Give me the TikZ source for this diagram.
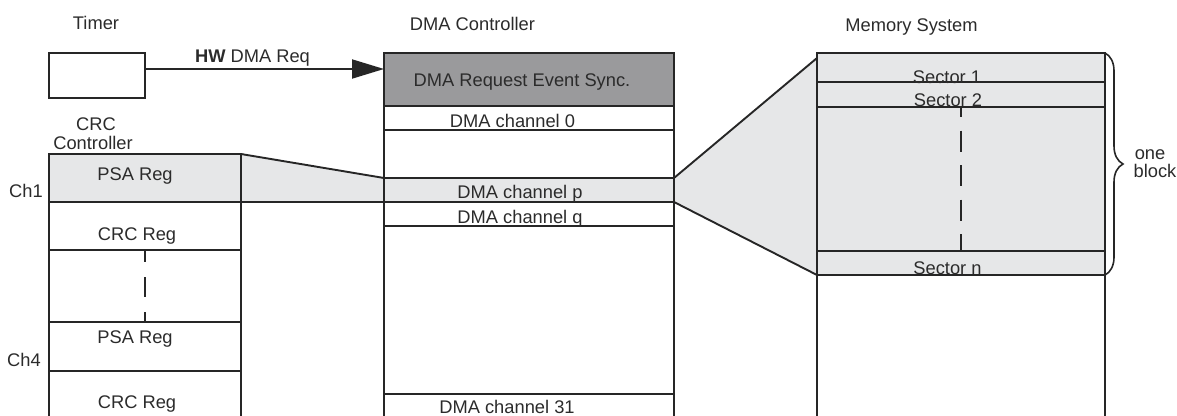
\documentclass[tikz,border=0pt]{standalone}
\usepackage{fontspec}
\setmainfont{Liberation Sans}
\usetikzlibrary{arrows.meta,decorations.pathreplacing}
\definecolor{ln}{HTML}{262626}
\definecolor{txtc}{HTML}{2B2B2B}
\definecolor{lgray}{HTML}{E6E7E8}
\definecolor{dgray}{HTML}{9A9A9C}
\begin{document}
\begin{tikzpicture}[x=1pt,y=-1pt,
  box/.style={draw=ln,line width=1.9pt,inner sep=0pt,outer sep=0pt,rectangle},
  lbl/.style={font=\fontsize{18.3}{20}\selectfont,text=txtc,inner sep=0pt,anchor=base},
  edge/.style={draw=ln,line width=1.9pt},
  dlineA/.style={draw=ln,line width=1.9pt,dash pattern=on 20pt off 15pt,dash phase=8pt},
  dlineB/.style={draw=ln,line width=1.9pt,dash pattern=on 21pt off 13.5pt,dash phase=11pt},
  bracestyle/.style={draw=ln,line width=1.6pt,decorate,decoration={brace,amplitude=18pt,aspect=0.5}}]
\useasboundingbox (0,0) rectangle (1177,415);
\clip (0,0) rectangle (1177,415);

% memory fill block (drawn first, lines on top)
\node[box,draw=none,fill=lgray,minimum width=288,minimum height=222] (memblk) at (961,164) {};

% ---- Timer ----
\node[box,minimum width=96,minimum height=45] (timer) at (97,75.5) {};

% ---- CRC controller column ----
\node[box,fill=lgray,minimum width=192,minimum height=48] (psa1) at (145,178) {};
\node[box,minimum width=192,minimum height=48] (crc1) at (145,226) {};
\node[box,minimum width=192,minimum height=49] (psa4) at (145,346.5) {};
\node[box,minimum width=192,minimum height=69] (crc4) at (145,405.5) {};

% ---- DMA controller column ----
\node[box,fill=dgray,minimum width=290,minimum height=53] (sync) at (529,79.5) {};
\node[box,minimum width=290,minimum height=24] (ch0) at (529,118) {};
\node[box,fill=lgray,minimum width=290,minimum height=24] (chp) at (529,190) {};
\node[box,minimum width=290,minimum height=24] (chq) at (529,214) {};
\node[box,minimum width=290,minimum height=46] (ch31) at (529,417) {};

% ---- Memory column ----
\node[box,minimum width=288,minimum height=29] (s1) at (961,67.5) {};
\node[box,minimum width=288,minimum height=25] (s2) at (961,94.5) {};
\node[box,minimum width=288,minimum height=24] (sn) at (961,263) {};
\coordinate (mtop) at ([yshift=-5pt]s1.north west);

% ---- funnels ----
\fill[lgray] (psa1.north east) -- (chp.north west) -- (chp.south west) -- (psa1.south east) -- cycle;
\fill[lgray] (chp.north east) -- (mtop) -- (sn.south west) -- (chp.south east) -- cycle;
\draw[edge] (psa1.north east) -- (chp.north west);
\draw[edge] (psa1.south east) -- (chp.south west);
\draw[edge] (chp.north east) -- (mtop);
\draw[edge] (chp.south east) -- (sn.south west);

% ---- column outlines ----
\node[box,minimum width=192,minimum height=286] (crccol) at (145,297) {};
\node[box,minimum width=290,minimum height=387] (dmacol) at (529,246.5) {};
\node[box,minimum width=288,minimum height=387] (memcol) at (961,246.5) {};
\draw[edge] (s1.south west) -- (s1.south east);
\draw[edge] (s2.south west) -- (s2.south east);
\draw[edge] (sn.north west) -- (sn.north east);
\draw[edge] (sn.south west) -- (sn.south east);
\draw[edge] (psa1.south west) -- (psa1.south east);
\draw[edge] (chp.north west) -- (chp.north east);
\draw[edge] (chp.south west) -- (chp.south east);

% ---- dashed continuation lines ----
\draw[dlineA] (crc1.south) -- (psa4.north);
\draw[dlineB] (s2.south) -- (sn.north);

% ---- arrow ----
\coordinate (ay) at (0,69);
\draw[edge,-{Triangle[length=32pt,width=19pt]}] (timer.east |- ay) -- (sync.west |- ay);

% ---- brace ----
\draw[bracestyle] (memblk.north east) -- (memblk.south east);

% ---- labels ----
\node[lbl] (tTimer) at (96,29) {Timer};
\node[lbl] (tHW) at (252.5,62) {\textbf{HW} DMA Req};
\node[lbl] (tDMAC) at (472.5,30) {DMA Controller};
\node[lbl] (tMem) at (911.5,31) {Memory System};
\node[lbl] (tCRC) at (96,130) {CRC};
\node[lbl] (tCtrl) at (93,149) {Controller};
\node[lbl] (tPSA1) at (135,180) {PSA Reg};
\node[lbl] (tCh1) at (26,197) {Ch1};
\node[lbl] (tCRC1) at (137,240) {CRC Reg};
\node[lbl] (tPSA4) at (135,343) {PSA Reg};
\node[lbl] (tCh4) at (24,366) {Ch4};
\node[lbl] (tCRC4) at (137,408) {CRC Reg};
\node[lbl] (tSync) at (522,86) {DMA Request Event Sync.};
\node[lbl] (tCh0) at (512.5,127) {DMA channel 0};
\node[lbl] (tChp) at (520,198) {DMA channel p};
\node[lbl] (tChq) at (520,223) {DMA channel q};
\node[lbl] (tCh31) at (507,413) {DMA channel 31};
\node[lbl] (tS1) at (947,83) {Sector 1};
\node[lbl] (tS2) at (948,106) {Sector 2};
\node[lbl] (tSn) at (947.5,274) {Sector n};
\node[lbl] (tOne) at (1150,159) {one};
\node[lbl] (tBlock) at (1155,177.5) {block};
\end{tikzpicture}
\end{document}
